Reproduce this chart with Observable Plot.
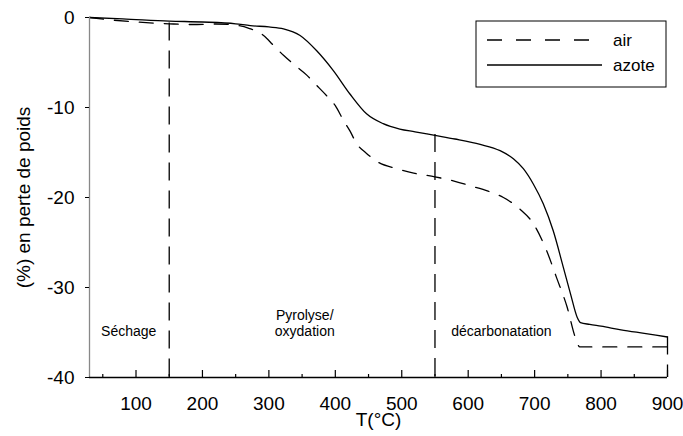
<!DOCTYPE html>
<html>
<head>
<meta charset="utf-8">
<script src="https://cdn.jsdelivr.net/npm/d3@7"></script>
<script src="https://cdn.jsdelivr.net/npm/@observablehq/plot@0.6"></script>
<style>
  html, body { margin: 0; padding: 0; background: #fff; }
  #wrap { position: relative; width: 683px; height: 436px; font-family: "Liberation Sans", Arial, sans-serif; }
</style>
</head>
<body>
<div id="wrap"></div>
<script>
// Temperature (°C) and weight loss (%)
const airT   = [30, 60, 100, 150, 185, 220, 250, 270, 292, 307, 322, 339, 357, 370, 387, 400, 412, 422, 432, 447, 465, 493, 518, 550, 580, 603, 630, 653, 678, 698, 718, 733, 749, 761, 768, 780, 850, 900];
const airY   = [0, -0.25, -0.5, -0.7, -0.78, -0.72, -0.85, -1.2, -2.0, -3.1, -4.2, -5.3, -6.4, -7.4, -8.7, -9.8, -11.4, -12.6, -14.0, -15.1, -16.1, -16.8, -17.3, -17.7, -18.2, -18.7, -19.3, -20.0, -21.3, -22.9, -25.9, -28.9, -32.2, -35.5, -36.6, -36.6, -36.6, -36.6];
const azoteT = [30, 80, 150, 200, 250, 272, 300, 322, 347, 372, 397, 422, 447, 472, 497, 520, 550, 580, 618, 648, 668, 683, 698, 713, 728, 743, 754, 764, 769, 783, 800, 830, 865, 900];
const azoteY = [0, -0.15, -0.4, -0.5, -0.7, -0.9, -1.05, -1.26, -2.0, -3.7, -5.9, -8.5, -10.7, -11.8, -12.4, -12.7, -13.1, -13.5, -14.1, -14.8, -15.7, -16.8, -18.5, -20.7, -23.7, -27.7, -30.7, -33.3, -33.9, -34.1, -34.3, -34.7, -35.1, -35.5];
const seriesNames = ["air", "azote"];

// Stage boundaries (°C) and where each dashed divider starts (%)
const dividerT   = [150, 550, 900];
const dividerTop = [-0.6, -13.0, -35.5];

// Stage labels
const stageLabels = ["Séchage", "Pyrolyse/\noxydation", "décarbonatation"];
const stageT      = [89, 354, 650];
const stageY      = [-34.8, -33.95, -34.8];

const majorTicksX = [100, 200, 300, 400, 500, 600, 700, 800, 900];
const minorTicksX = [50, 150, 250, 350, 450, 550, 650, 750, 850];
const ticksY = [0, -10, -20, -30, -40];
const xLabel = "T(°C)";
const yLabel = "(%) en perte de poids";

const air = airT.map((t, i) => ({T: t, v: airY[i]}));
const azote = azoteT.map((t, i) => ({T: t, v: azoteY[i]}));
const dividers = dividerT.map((t, i) => ({T: t, top: dividerTop[i]}));
const stages = stageLabels.map((s, i) => ({T: stageT[i], v: stageY[i], text: s}));

const W = 683, H = 436;
const mL = 89, mR = 16, mT = 17, mB = 59;
const plotH = H - mT - mB;
const FONT = '"Liberation Sans", Arial, sans-serif';

const chart = Plot.plot({
  width: W, height: H,
  marginLeft: mL, marginRight: mR, marginTop: mT, marginBottom: mB,
  style: {fontFamily: FONT, background: "white", color: "black"},
  x: {domain: [30, 900]},
  y: {domain: [-40, 0]},
  marks: [
    Plot.ruleX(dividers, {x: "T", y1: "top", y2: -40, stroke: "black", strokeWidth: 1.3, strokeDasharray: "18,10"}),
    Plot.line(air, {x: "T", y: "v", curve: "monotone-x", stroke: "black", strokeWidth: 1.3, strokeDasharray: "14,11"}),
    Plot.line(azote, {x: "T", y: "v", curve: "monotone-x", stroke: "black", strokeWidth: 1.3}),
    Plot.text(stages, {x: "T", y: "v", text: "text", fontSize: 14, lineHeight: 1.15, textAnchor: "middle", fill: "black"}),
    Plot.ruleX([30], {stroke: "#888", strokeWidth: 1.3}),
    Plot.ruleY([-40], {stroke: "black", strokeWidth: 1.3}),
    Plot.tickX(majorTicksX, {x: d => d, insetTop: plotH - 7, stroke: "black", strokeWidth: 1.2}),
    Plot.tickX(minorTicksX, {x: d => d, insetTop: plotH - 3, stroke: "black", strokeWidth: 1.2}),
    Plot.axisX(majorTicksX, {tickSize: 0, tickPadding: 19, fontSize: 19, label: null, tickFormat: d => String(d)}),
    Plot.axisY(ticksY, {tickSize: 4, tickPadding: 11, fontSize: 19, label: null, tickFormat: d => String(d)}),
    Plot.text([xLabel], {frameAnchor: "bottom", dy: 42, lineAnchor: "middle", textAnchor: "middle", fontSize: 19, fill: "black"}),
    Plot.text([yLabel], {frameAnchor: "left", rotate: -90, dx: -66, lineAnchor: "middle", textAnchor: "middle", fontSize: 19, fill: "black"})
  ]
});

const wrap = document.getElementById("wrap");
wrap.appendChild(chart);

// Legend box (inside the plot frame, top-right)
const leg = d3.create("svg").attr("width", W).attr("height", H)
  .style("position", "absolute").style("left", "0px").style("top", "0px")
  .style("font-family", FONT);
leg.append("rect").attr("x", 476).attr("y", 21).attr("width", 190).attr("height", 66)
  .attr("fill", "white").attr("stroke", "black").attr("stroke-width", 1);
const legRows = [
  {name: seriesNames[0], dash: "15,14", x2: 590, y: 40},
  {name: seriesNames[1], dash: null, x2: 602, y: 65}
];
legRows.forEach(r => {
  const l = leg.append("line").attr("x1", 487).attr("x2", r.x2).attr("y1", r.y).attr("y2", r.y)
    .attr("stroke", "black").attr("stroke-width", 1.3);
  if (r.dash) l.attr("stroke-dasharray", r.dash);
  leg.append("text").attr("x", 613).attr("y", r.y).attr("dy", "0.35em")
    .attr("font-size", 17).attr("fill", "black").text(r.name);
});
wrap.appendChild(leg.node());
</script>
</body>
</html>
